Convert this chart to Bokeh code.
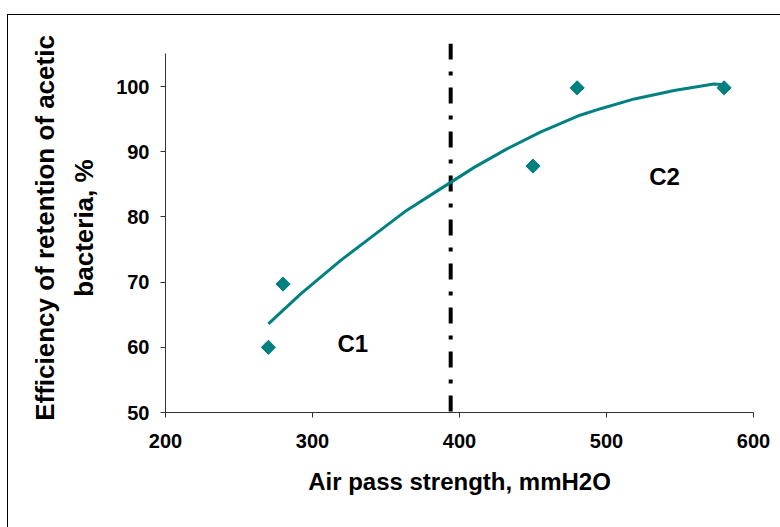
import numpy as np
from bokeh.plotting import figure
from bokeh.models import Range1d, FixedTicker, InlineStyleSheet
from bokeh.core.properties import value
from bokeh.embed import file_html
from bokeh.resources import INLINE

# measured points
x_points = [270, 280, 450, 480, 580]
y_points = [60.0, 69.7, 87.8, 99.8, 99.8]

# trend curve
trend_x = [270, 292, 319, 340, 364, 387, 394, 410, 432, 455, 482, 496, 519, 546, 573, 578]
trend_y = [63.6, 68.2, 73.3, 76.9, 81.0, 84.3, 85.3, 87.6, 90.4, 93.0, 95.6, 96.6, 98.1, 99.4, 100.4, 100.3]

# divider between zones
divider_x = 394
zone_labels = ["C1", "C2"]
zone_x = [317, 529]
zone_y = [60.6, 86.2]

x_ticks = [200, 300, 400, 500, 600]
y_ticks = [50, 60, 70, 80, 90, 100]

FONT = "Liberation Sans"
TEAL = "#008080"

p = figure(width=780, height=527, output_backend="svg", toolbar_location=None,
           x_range=Range1d(200, 600), y_range=Range1d(50, 106.6),
           min_border_left=165, min_border_right=27, min_border_top=43, min_border_bottom=115)
p.outline_line_color = None
p.grid.grid_line_color = None
p.background_fill_color = "white"
p.border_fill_color = "white"

# outer chart border (drawn as an overlay on the figure element)
p.stylesheets = [InlineStyleSheet(css=""":host { position: relative; }
:host::after { content: ""; position: absolute; left: 7px; top: 14px; width: 900px; height: 900px;
  border-left: 1px solid #000; border-top: 1px solid #000; pointer-events: none; z-index: 10; }""")]

# dash-dot divider
p.line([divider_x, divider_x], [106.6, 50], line_color="black", line_width=4,
       line_dash="16 12 4 12", line_cap="butt")

# trend line
p.line(trend_x, trend_y, line_color=TEAL, line_width=3)

# points (diamonds)
p.scatter(x_points, y_points, marker="square", angle=np.pi / 4, size=10,
          fill_color=TEAL, line_color=TEAL)

# zone labels
p.text(zone_x, zone_y, text=zone_labels, text_font=value(FONT), text_font_style="bold",
       text_font_size="24px", text_align="left", text_baseline="alphabetic", text_color="black")

for ax in (p.xaxis[0], p.yaxis[0]):
    ax.axis_line_color = "#333333"
    ax.major_tick_line_color = "#333333"
    ax.major_tick_out = 5
    ax.major_tick_in = 0
    ax.minor_tick_line_color = None
    ax.major_label_text_font = FONT
    ax.major_label_text_font_style = "bold"
    ax.major_label_text_font_size = "20px"
    ax.major_label_text_color = "black"
    ax.axis_label_text_font = FONT
    ax.axis_label_text_font_style = "bold"
    ax.axis_label_text_color = "black"

p.xaxis.ticker = FixedTicker(ticks=x_ticks)
p.yaxis.ticker = FixedTicker(ticks=y_ticks)
p.yaxis.bounds = (50, 105)
p.xaxis.major_label_standoff = 16
p.yaxis.major_label_standoff = 11

p.xaxis.axis_label = "Air pass strength, mmH2O"
p.xaxis.axis_label_text_font_size = "24px"
p.xaxis.axis_label_standoff = 17

p.yaxis.axis_label = "Efficiency of retention of acetic\nbacteria, %"
p.yaxis.axis_label_text_font_size = "26px"
p.yaxis.axis_label_standoff = 14
p.yaxis.axis_label_text_line_height = 1.3

open("out.html", "w").write(file_html(p, INLINE))
